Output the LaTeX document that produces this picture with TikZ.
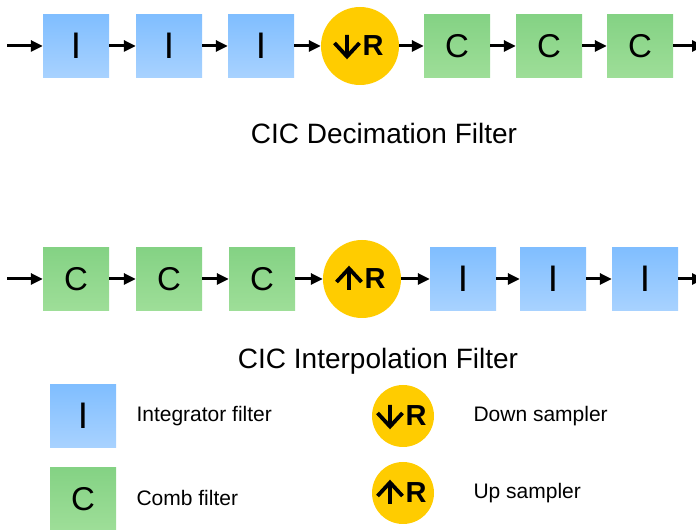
\documentclass[tikz,border=0pt]{standalone}
\usepackage{fontspec}
\setmainfont{Liberation Sans}
\usetikzlibrary{arrows.meta}
\definecolor{intTop}{RGB}{128,190,255}
\definecolor{intBot}{RGB}{168,210,255}
\definecolor{combTop}{RGB}{132,210,132}
\definecolor{combBot}{RGB}{158,222,152}
\definecolor{sampFill}{RGB}{255,204,0}
\begin{document}
\begin{tikzpicture}[x=1pt, y=1pt, line join=round, >={Triangle[length=12pt,width=11pt]}]
	\tikzset{
		integ/.style={minimum width=66pt, minimum height=63pt, inner sep=0pt,
			top color=intTop, bottom color=intBot, font=\fontsize{37}{37}\selectfont},
		comb/.style={minimum width=66pt, minimum height=63pt, inner sep=0pt,
			top color=combTop, bottom color=combBot, font=\fontsize{33}{33}\selectfont},
		sampler/.style={circle, fill=sampFill, minimum size=78pt, inner sep=0pt,
			font=\fontsize{29}{29}\selectfont\bfseries},
		rate/.pic={\draw[line width=3.8pt, line cap=butt, line join=miter]
			(0,11) -- (0,-10) (-12.5,3) -- (0,-10.5) -- (12.5,3);},
		flow/.style={->, line width=3pt},
		caption/.style={font=\fontsize{28}{28}\selectfont},
		legtext/.style={anchor=west, font=\fontsize{21}{21}\selectfont}
	}
	\useasboundingbox (0,0) rectangle (696,530);
	% decimation chain
	\coordinate (din) at (7,484);
	\coordinate (dout) at (704,484);
	\foreach \n/\x in {i1/76, i2/169, i3/261} \node[integ] (d\n) at (\x,484) {I};
	\node[sampler] (dr) at (360,484) {\hspace*{26pt}R};
	\pic at ([shift={(-13,0)}]dr.center) {rate};
	\foreach \n/\x in {c1/457, c2/549, c3/640} \node[comb] (d\n) at (\x,484) {C};
	\foreach \a/\b in {din/di1, di1/di2, di2/di3, di3/dr, dr/dc1, dc1/dc2, dc2/dc3, dc3/dout}
		\draw[flow] (\a) -- (\b);
	\node[caption] (dtitle) at (384,397) {CIC Decimation Filter};
	% interpolation chain
	\coordinate (uin) at (7,251);
	\coordinate (uout) at (704,251);
	\foreach \n/\x in {c1/76, c2/169, c3/262} \node[comb] (u\n) at (\x,251) {C};
	\node[sampler] (ur) at (362,251) {\hspace*{26pt}R};
	\pic[rotate=180] at ([shift={(-13,0)}]ur.center) {rate};
	\foreach \n/\x in {i1/463, i2/553, i3/645} \node[integ] (u\n) at (\x,251) {I};
	\foreach \a/\b in {uin/uc1, uc1/uc2, uc2/uc3, uc3/ur, ur/ui1, ui1/ui2, ui2/ui3, ui3/uout}
		\draw[flow] (\a) -- (\b);
	\node[caption] (utitle) at (378,169) {CIC Interpolation Filter};
	% legend
	\node[integ] (li) at (83,114) {I};
	\node[legtext] (lit) at (133,114) {Integrator filter};
	\node[comb] (lc) at (83,31) {C};
	\node[legtext] (lct) at (133,32) {Comb filter};
	\node[sampler, minimum size=62pt] (ld) at (403,114) {\hspace*{26pt}R};
	\pic at ([shift={(-13,0)}]ld.center) {rate};
	\node[legtext] (ldt) at (470,114) {Down sampler};
	\node[sampler, minimum size=62pt] (lu) at (403,37) {\hspace*{26pt}R};
	\pic[rotate=180] at ([shift={(-13,0)}]lu.center) {rate};
	\node[legtext] (lut) at (470,37) {Up sampler};
\end{tikzpicture}
\end{document}
